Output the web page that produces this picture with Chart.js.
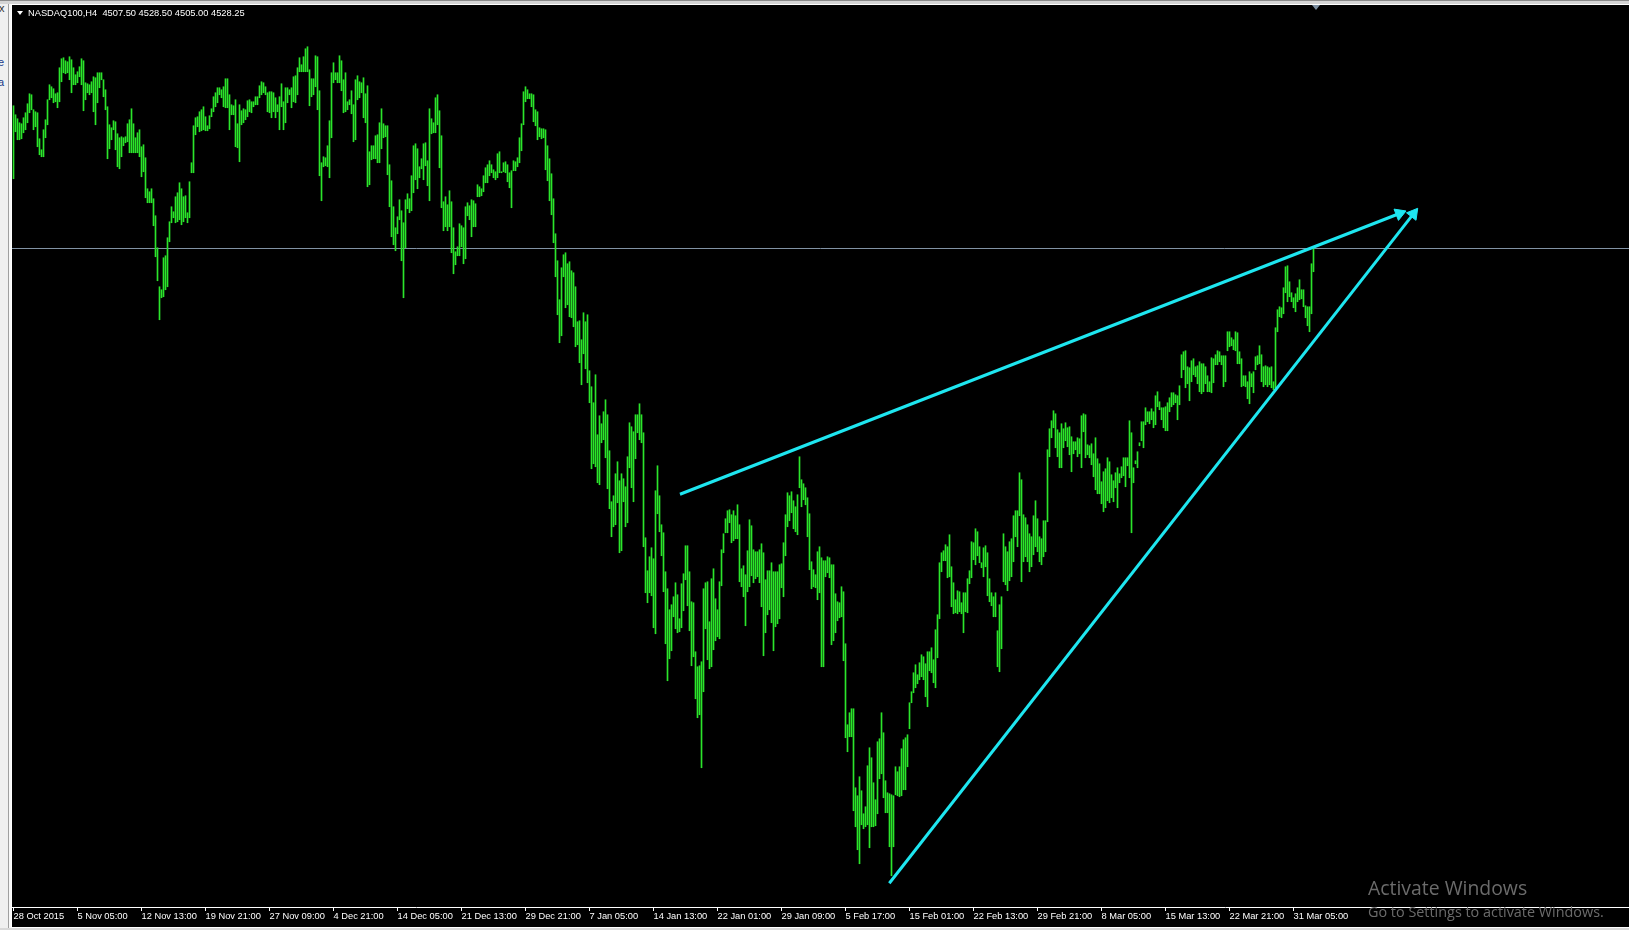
<!DOCTYPE html>
<html>
<head>
<meta charset="utf-8">
<script src="https://cdn.jsdelivr.net/npm/chart.js@4.4.1/dist/chart.umd.min.js"></script>
<style>
  html, body { margin:0; padding:0; }
  body { width:1629px; height:930px; background:#000; position:relative; overflow:hidden; font-family:"Liberation Sans", Arial, sans-serif; }
  #c { position:absolute; left:12px; top:5px; }
  .abs { position:absolute; }
  #topband { left:0; top:0; width:1629px; height:4px; background:#d4d4d4; border-top:1px solid #8a8a8a; box-sizing:border-box; }
  #topline { left:11px; top:4px; width:1618px; height:1px; background:#ffffff; }
  #leftpanel { left:0; top:0; width:8px; height:930px; background:#f0f0f0; overflow:hidden; }
  #leftsep { left:8px; top:0; width:1px; height:930px; background:#a0a0a0; }
  #leftwhite { left:9px; top:0; width:2px; height:930px; background:#f8f8f8; }
  #leftline { left:11px; top:4px; width:1px; height:923px; background:#ffffff; }
  #bottomline { left:11px; top:927px; width:1618px; height:1px; background:#ffffff; }
  #bottomband { left:0; top:928px; width:1629px; height:2px; background:#d8d8d8; }
  #header { left:28px; top:7px; font-size:9.3px; line-height:12px; color:#fff; white-space:pre; }
  #hdrtri { left:17px; top:11px; width:0; height:0; border-left:3px solid transparent; border-right:3px solid transparent; border-top:4px solid #fff; }
  #shifttri { left:1312px; top:5px; width:0; height:0; border-left:4.5px solid transparent; border-right:4.5px solid transparent; border-top:5px solid #7d8fa1; }
  .wm { color:#6b6b6b; font-family:"Open Sans", "Noto Sans", sans-serif; white-space:nowrap; }
  #wm1 { left:1368px; top:877.7px; font-size:19.4px; line-height:19px; }
  #wm2 { left:1368px; top:903.7px; font-size:14.4px; line-height:15px; }
  .panelchar { font-size:11px; line-height:12px; color:#1a3a8a; }
</style>
</head>
<body>
<div id="leftpanel" class="abs">
  <div class="abs panelchar" style="left:-1px;top:2px;color:#333">x</div>
  <div class="abs panelchar" style="left:-2px;top:56px;">e</div>
  <div class="abs panelchar" style="left:-2px;top:76px;">a</div>
</div>
<div id="leftsep" class="abs"></div>
<div id="leftwhite" class="abs"></div>
<div id="topband" class="abs"></div>
<canvas id="c" width="1617" height="922"></canvas>
<div id="topline" class="abs"></div>
<div id="leftline" class="abs"></div>
<div id="bottomline" class="abs"></div>
<div id="bottomband" class="abs"></div>
<div id="hdrtri" class="abs"></div>
<div id="header" class="abs">NASDAQ100,H4  4507.50 4528.50 4505.00 4528.25</div>
<div id="shifttri" class="abs"></div>
<div id="wm1" class="abs wm">Activate Windows</div>
<div id="wm2" class="abs wm">Go to Settings to activate Windows.</div>
<script>
// ---- Data (NASDAQ100, H4 bars: high / low per bar, oldest first) ----
const highs = [
4671,4662,4658,4654,4653,4659,4664,4673,4683,4682,
4667,4665,4664,4638,4627,4647,4657,4677,4692,4690,
4688,4683,4684,4709,4718,4719,4716,4715,4720,4717,
4709,4702,4705,4710,4718,4716,4694,4693,4692,4695,
4700,4699,4704,4704,4704,4697,4687,4670,4652,4649,
4656,4655,4643,4639,4640,4639,4640,4653,4657,4668,
4653,4639,4644,4647,4630,4632,4619,4588,4585,4588,
4578,4561,4529,4490,4487,4519,4521,4539,4555,4570,
4565,4580,4584,4594,4588,4580,4581,4564,4595,4614,
4651,4659,4660,4665,4667,4670,4660,4651,4661,4668,
4680,4684,4689,4689,4687,4690,4698,4698,4682,4672,
4671,4677,4653,4672,4666,4668,4667,4676,4677,4675,
4675,4680,4680,4691,4695,4694,4690,4684,4685,4685,
4684,4679,4672,4680,4693,4675,4689,4689,4687,4689,
4700,4701,4709,4719,4712,4720,4728,4730,4707,4698,
4698,4721,4720,4686,4614,4620,4619,4631,4656,4704,
4714,4704,4704,4721,4716,4697,4704,4675,4677,4686,
4672,4697,4701,4695,4694,4699,4683,4691,4625,4631,
4631,4641,4642,4654,4668,4653,4651,4651,4612,4596,
4570,4549,4560,4577,4566,4554,4577,4583,4578,4601,
4631,4633,4628,4610,4618,4633,4634,4616,4668,4658,
4654,4679,4682,4666,4641,4575,4580,4572,4586,4575,
4549,4525,4530,4553,4551,4549,4570,4574,4571,4577,
4576,4573,4592,4590,4588,4601,4609,4612,4616,4612,
4607,4605,4623,4625,4605,4614,4615,4612,4604,4606,
4616,4615,4619,4639,4653,4685,4690,4687,4683,4683,
4682,4667,4665,4649,4648,4648,4647,4631,4618,4603,
4578,4543,4516,4477,4509,4522,4524,4513,4515,4506,
4504,4490,4455,4456,4437,4464,4455,4462,4406,4390,
4374,4402,4342,4361,4353,4365,4377,4362,4326,4275,
4281,4303,4315,4296,4303,4298,4290,4320,4354,4350,
4345,4362,4362,4373,4362,4344,4239,4206,4220,4229,
4218,4286,4311,4281,4252,4244,4205,4188,4167,4172,
4180,4194,4182,4158,4193,4203,4231,4231,4205,4175,
4174,4125,4110,4111,4115,4188,4194,4195,4155,4198,
4208,4178,4167,4195,4227,4243,4258,4266,4267,4262,
4266,4261,4272,4252,4208,4211,4202,4226,4257,4251,
4227,4225,4225,4227,4233,4224,4197,4206,4206,4214,
4205,4205,4205,4212,4213,4234,4262,4284,4281,4285,
4276,4270,4282,4320,4297,4293,4289,4279,4263,4215,
4207,4202,4225,4230,4219,4216,4216,4220,4219,4212,
4212,4183,4175,4174,4190,4185,4133,4052,4064,4068,
4068,3989,3981,4000,3986,3963,3970,4011,4029,4019,
3994,3977,4035,4038,4064,4044,3996,3984,3983,3982,
3981,4010,4005,4010,4028,4037,4039,4042,4074,4085,
4104,4112,4102,4114,4122,4120,4113,4125,4125,4129,
4117,4147,4162,4214,4224,4226,4232,4230,4242,4210,
4194,4177,4186,4185,4174,4184,4184,4198,4206,4235,
4234,4248,4245,4230,4214,4229,4231,4224,4198,4184,
4180,4184,4146,4172,4180,4243,4230,4225,4235,4238,
4261,4266,4266,4304,4297,4262,4259,4252,4243,4240,
4261,4276,4258,4240,4238,4256,4256,4327,4348,4356,
4366,4363,4347,4344,4353,4348,4354,4349,4350,4340,
4335,4335,4339,4338,4361,4363,4362,4332,4331,4333,
4323,4339,4318,4313,4295,4305,4308,4319,4315,4302,
4296,4304,4309,4303,4310,4319,4319,4319,4356,4344,
4309,4316,4325,4334,4355,4355,4369,4365,4365,4368,
4365,4381,4385,4375,4369,4369,4370,4374,4379,4384,
4384,4382,4381,4391,4422,4425,4426,4410,4409,4416,
4418,4410,4411,4415,4413,4413,4410,4401,4395,4419,
4418,4422,4426,4425,4421,4421,4421,4445,4445,4439,
4437,4445,4444,4425,4418,4401,4401,4395,4405,4403,
4405,4420,4421,4431,4422,4410,4411,4410,4409,4410,
4395,4449,4467,4470,4469,4489,4510,4511,4495,4484,
4479,4483,4489,4497,4487,4487,4471,4470,4470,4513,
4528.5
];
const lows = [
4598,4645,4637,4637,4638,4644,4647,4654,4664,4667,
4647,4650,4630,4622,4620,4620,4639,4652,4677,4679,
4674,4675,4669,4675,4695,4704,4703,4704,4697,4684,
4692,4692,4694,4700,4692,4666,4677,4684,4682,4684,
4665,4652,4674,4689,4697,4680,4667,4618,4628,4637,
4647,4627,4610,4608,4620,4631,4634,4635,4624,4624,
4624,4624,4624,4620,4600,4605,4579,4574,4574,4574,
4551,4520,4496,4457,4479,4480,4487,4490,4535,4554,
4559,4554,4555,4557,4552,4555,4559,4554,4559,4604,
4604,4642,4650,4645,4646,4647,4646,4646,4648,4660,
4665,4670,4674,4682,4679,4670,4669,4669,4647,4662,
4662,4630,4629,4615,4652,4654,4657,4660,4665,4664,
4670,4672,4672,4679,4682,4684,4682,4665,4664,4659,
4665,4659,4665,4647,4670,4647,4654,4674,4682,4669,
4675,4674,4682,4705,4705,4705,4705,4705,4671,4680,
4682,4690,4667,4601,4576,4610,4611,4610,4599,4639,
4694,4697,4694,4694,4686,4664,4665,4667,4672,4663,
4635,4637,4677,4679,4684,4659,4654,4590,4592,4617,
4618,4618,4614,4614,4628,4639,4640,4602,4570,4540,
4532,4526,4543,4557,4516,4479,4529,4568,4564,4566,
4584,4597,4588,4599,4608,4597,4611,4591,4576,4643,
4644,4644,4652,4609,4569,4546,4550,4546,4550,4524,
4503,4512,4521,4521,4530,4513,4518,4561,4557,4540,
4550,4550,4580,4580,4581,4585,4594,4594,4601,4604,
4599,4597,4599,4604,4604,4605,4604,4595,4589,4569,
4606,4606,4610,4614,4626,4652,4675,4678,4678,4670,
4655,4651,4637,4640,4638,4639,4607,4596,4576,4562,
4534,4500,4462,4434,4441,4500,4469,4472,4460,4459,
4450,4430,4432,4414,4392,4423,4408,4394,4374,4308,
4313,4310,4294,4292,4334,4337,4319,4288,4268,4240,
4250,4252,4274,4224,4226,4275,4250,4254,4309,4289,
4275,4318,4344,4337,4334,4230,4184,4174,4184,4181,
4149,4143,4263,4245,4221,4185,4133,4096,4118,4126,
4160,4148,4144,4145,4149,4166,4197,4171,4146,4111,
4120,4078,4059,4062,4009,4085,4148,4117,4108,4110,
4127,4136,4140,4138,4191,4224,4244,4244,4254,4234,
4236,4238,4238,4195,4190,4180,4151,4185,4190,4201,
4194,4198,4200,4194,4170,4121,4144,4162,4167,4154,
4126,4150,4153,4158,4189,4180,4221,4250,4256,4264,
4248,4245,4242,4289,4270,4277,4272,4240,4207,4188,
4190,4189,4177,4184,4110,4110,4200,4204,4199,4132,
4136,4144,4156,4159,4160,4116,4039,4025,4040,4040,
3966,3950,3927,3913,3952,3948,3950,3952,3929,3950,
3950,3951,3963,3998,4003,3979,3964,3964,3930,3901,
3930,3982,3981,3980,3981,3987,3987,4010,4048,4074,
4084,4089,4093,4097,4100,4097,4080,4070,4106,4104,
4094,4089,4119,4158,4205,4216,4216,4199,4200,4170,
4163,4164,4163,4165,4163,4144,4165,4164,4193,4199,
4217,4212,4221,4214,4209,4200,4210,4181,4175,4171,
4160,4160,4110,4105,4128,4195,4192,4186,4196,4200,
4215,4240,4230,4261,4195,4215,4220,4215,4205,4210,
4222,4230,4225,4215,4212,4220,4225,4255,4320,4339,
4349,4329,4320,4309,4309,4329,4336,4330,4322,4305,
4323,4327,4320,4323,4309,4345,4319,4322,4319,4312,
4300,4287,4283,4283,4273,4265,4269,4276,4274,4279,
4275,4289,4269,4294,4299,4301,4290,4311,4299,4244,
4294,4313,4309,4331,4336,4329,4352,4355,4353,4357,
4349,4352,4370,4367,4357,4349,4346,4346,4365,4370,
4372,4374,4357,4372,4399,4407,4389,4393,4376,4395,
4402,4400,4393,4385,4383,4385,4393,4385,4385,4384,
4394,4412,4412,4415,4412,4390,4395,4426,4430,4431,
4427,4426,4413,4413,4390,4391,4390,4378,4373,4390,
4384,4407,4412,4413,4395,4390,4392,4390,4392,4389,
4387,4389,4445,4460,4459,4463,4484,4475,4480,4475,
4469,4465,4475,4477,4478,4470,4459,4451,4445,4463,
4505
];
// Time-axis labels (one every 32 bars)
const timeLabels = [
"28 Oct 2015","5 Nov 05:00","12 Nov 13:00","19 Nov 21:00","27 Nov 09:00",
"4 Dec 21:00","14 Dec 05:00","21 Dec 13:00","29 Dec 21:00","7 Jan 05:00",
"14 Jan 13:00","22 Jan 01:00","29 Jan 09:00","5 Feb 17:00","15 Feb 01:00",
"22 Feb 13:00","29 Feb 21:00","8 Mar 05:00","15 Mar 13:00","22 Mar 21:00",
"31 Mar 05:00"
];
const barsPerLabel = 32;
const lastClose = 4528.25;
// Hand-drawn trend arrows, in (bar index, price)
const arrowUpper = [ {x:333.25, y:4282.5}, {x:693.0, y:4563.25} ];
const arrowLower = [ {x:437.9, y:3893.5}, {x:699.95, y:4562.95} ];

// ---- Build chart ----
const xMin = -0.75, xMax = 807.75;
const yMin = 3869.75, yMax = 4771.75;
const bars = highs.map((h, i) => ({ x: i, y: [lows[i], h] }));
const bidLine = [ {x:xMin, y:lastClose}, {x:xMax, y:lastClose} ];
const tickValues = timeLabels.map((_, k) => k * barsPerLabel);

const BAR = '#2be52b';
const CYAN = '#1ee6f0';

new Chart(document.getElementById('c'), {
  type: 'bar',
  data: {
    datasets: [
      { type:'line', data: bidLine, borderColor:'#8192a4', borderWidth:1, pointRadius:0, order:3 },
      { type:'bar', data: bars, backgroundColor: BAR, barThickness:1, borderWidth:0, order:2 },
      { type:'line', data: arrowUpper, borderColor: CYAN, borderWidth:3, pointRadius:[0,7],
        pointStyle:'triangle', pointRotation: 68.7, pointBackgroundColor: CYAN, pointBorderColor: CYAN, pointBorderWidth:1, order:1 },
      { type:'line', data: arrowLower, borderColor: CYAN, borderWidth:3, pointRadius:[0,7],
        pointStyle:'triangle', pointRotation: 38.1, pointBackgroundColor: CYAN, pointBorderColor: CYAN, pointBorderWidth:1, order:0 }
    ]
  },
  options: {
    responsive:false, animation:false, devicePixelRatio:1,
    layout:{ padding:0, autoPadding:false },
    plugins:{ legend:{display:false}, tooltip:{enabled:false}, title:{display:false} },
    scales:{
      x:{
        type:'linear', min:xMin, max:xMax, offset:false,
        grid:{ display:true, drawOnChartArea:false, drawTicks:true, tickLength:4, color:'#ffffff', offset:false },
        border:{ display:true, color:'#ffffff', width:1 },
        ticks:{ autoSkip:false, maxRotation:0, minRotation:0, align:'start', padding:0, color:'#ffffff',
                font:{ family:'"Liberation Sans", Arial, sans-serif', size:9.3 },
                callback:(v) => timeLabels[Math.round(v / barsPerLabel)] },
        afterBuildTicks:(s) => { s.ticks = tickValues.map(v => ({ value:v })); },
        afterFit:(s) => { s.height = 20; s.paddingLeft = 0; s.paddingRight = 0; s.paddingTop = 0; s.paddingBottom = 0; }
      },
      y:{ display:false, min:yMin, max:yMax }
    }
  }
});
</script>
</body>
</html>
